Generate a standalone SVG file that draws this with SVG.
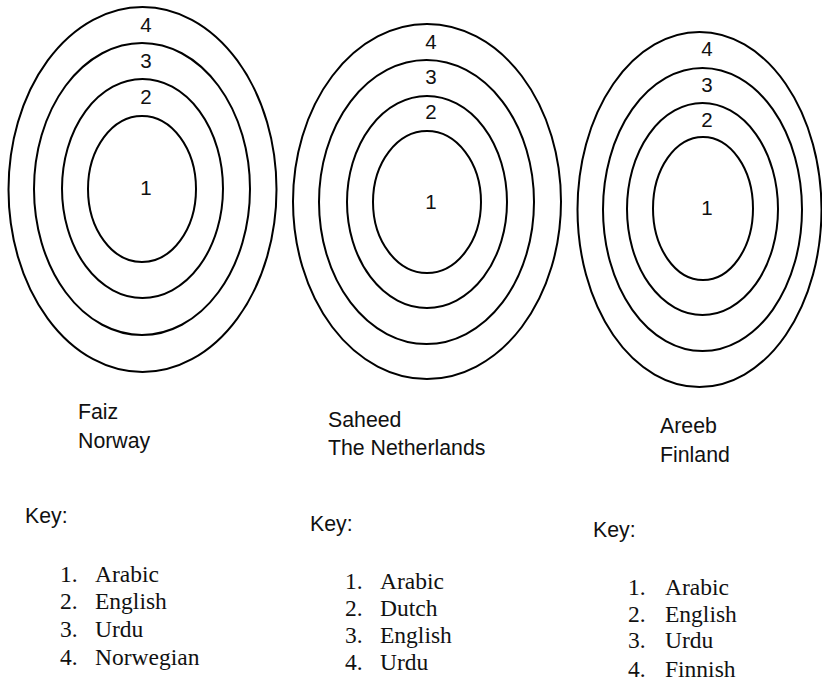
<svg xmlns="http://www.w3.org/2000/svg" width="822" height="682" viewBox="0 0 822 682">
<style>
.ring{fill:none;stroke:#000;stroke-width:2}
.num{font-family:"Liberation Sans",Arial,sans-serif;font-size:20.5px;text-anchor:middle;fill:#111}
.lbl{font-family:"Liberation Sans",Arial,sans-serif;font-size:21.3px;fill:#111}
.item{font-family:"Liberation Serif","Times New Roman",serif;font-size:23.5px;fill:#111}
</style>
<rect width="822" height="682" fill="#fff"/>
<g id="faiz-rings">
<ellipse class="ring" cx="142.5" cy="189.5" rx="134" ry="182.5"/>
<ellipse class="ring" cx="142" cy="189" rx="108" ry="146"/>
<ellipse class="ring" cx="142.5" cy="188.5" rx="80.5" ry="109.5"/>
<ellipse class="ring" cx="142" cy="189" rx="54" ry="73"/>
<text class="num" x="146" y="32">4</text>
<text class="num" x="146" y="68">3</text>
<text class="num" x="146" y="104">2</text>
<text class="num" x="146" y="195">1</text>
</g>
<g id="saheed-rings">
<ellipse class="ring" cx="427" cy="201.5" rx="134" ry="177.5"/>
<ellipse class="ring" cx="426.5" cy="202" rx="107.5" ry="142"/>
<ellipse class="ring" cx="427" cy="202" rx="80" ry="106"/>
<ellipse class="ring" cx="427" cy="202" rx="54" ry="71"/>
<text class="num" x="431" y="49">4</text>
<text class="num" x="431" y="84">3</text>
<text class="num" x="431" y="119">2</text>
<text class="num" x="431" y="209">1</text>
</g>
<g id="areeb-rings">
<ellipse class="ring" cx="699.5" cy="209.5" rx="122" ry="177.5"/>
<ellipse class="ring" cx="702.5" cy="209.5" rx="99.5" ry="141.5"/>
<ellipse class="ring" cx="702.5" cy="209" rx="75.5" ry="106"/>
<ellipse class="ring" cx="703" cy="208.5" rx="50" ry="71.5"/>
<text class="num" x="707" y="56">4</text>
<text class="num" x="707" y="92">3</text>
<text class="num" x="707" y="127">2</text>
<text class="num" x="707" y="215">1</text>
</g>
<g id="faiz-label">
<text class="lbl" x="78" y="419">Faiz</text>
<text class="lbl" x="78" y="448">Norway</text>
</g>
<g id="saheed-label">
<text class="lbl" x="328" y="427">Saheed</text>
<text class="lbl" x="328" y="455">The Netherlands</text>
</g>
<g id="areeb-label">
<text class="lbl" x="660" y="433">Areeb</text>
<text class="lbl" x="660" y="462">Finland</text>
</g>
<g id="faiz-key">
<text class="lbl" x="25" y="523">Key:</text>
<text class="item" x="60" y="582">1.</text><text class="item" x="95" y="582">Arabic</text>
<text class="item" x="60" y="609">2.</text><text class="item" x="95" y="609">English</text>
<text class="item" x="60" y="637">3.</text><text class="item" x="95" y="637">Urdu</text>
<text class="item" x="60" y="665">4.</text><text class="item" x="95" y="665">Norwegian</text>
</g>
<g id="saheed-key">
<text class="lbl" x="310" y="531">Key:</text>
<text class="item" x="345" y="589">1.</text><text class="item" x="380" y="589">Arabic</text>
<text class="item" x="345" y="616">2.</text><text class="item" x="380" y="616">Dutch</text>
<text class="item" x="345" y="643">3.</text><text class="item" x="380" y="643">English</text>
<text class="item" x="345" y="670">4.</text><text class="item" x="380" y="670">Urdu</text>
</g>
<g id="areeb-key">
<text class="lbl" x="593" y="537">Key:</text>
<text class="item" x="628" y="595">1.</text><text class="item" x="665" y="595">Arabic</text>
<text class="item" x="628" y="622">2.</text><text class="item" x="665" y="622">English</text>
<text class="item" x="628" y="648">3.</text><text class="item" x="665" y="648">Urdu</text>
<text class="item" x="628" y="677">4.</text><text class="item" x="665" y="677">Finnish</text>
</g>
<g id="connectors"></g>
</svg>
